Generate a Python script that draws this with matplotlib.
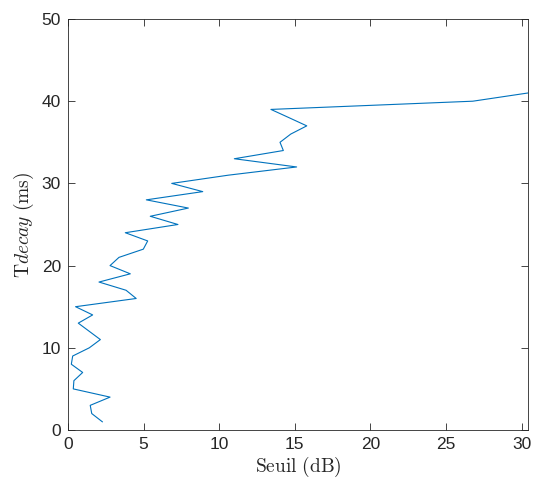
import numpy as np
import matplotlib.pyplot as plt

# Tdecay (ms) vs threshold (dB)
tdecay = np.arange(1, 42)
seuil = [2.27, 1.57, 1.47, 2.78, 0.35, 0.39, 0.97, 0.22, 0.31, 1.41,
         2.14, 1.41, 0.68, 1.63, 0.50, 4.51, 3.84, 2.05, 4.12, 2.78,
         3.37, 4.98, 5.27, 3.79, 7.27, 5.44, 7.96, 5.18, 8.91, 6.86,
         10.6, 15.12, 11.0, 14.24, 14.02, 14.73, 15.79, 14.61, 13.42, 26.77,
         30.42]

plt.rcParams['mathtext.fontset'] = 'cm'
plt.rcParams['font.family'] = ['Liberation Sans', 'DejaVu Sans']

fig = plt.figure(figsize=(5.35, 4.86), dpi=100)
ax = fig.add_axes([68 / 535, 1 - 430 / 486, 460 / 535, 411 / 486])

ax.plot(seuil, tdecay, color='#0072BD', linewidth=0.8)

ax.set_xlim(0, max(seuil))
ax.set_ylim(0, 50)
ax.set_xticks([0, 5, 10, 15, 20, 25, 30])
ax.set_yticks([0, 10, 20, 30, 40, 50])

for s in ax.spines.values():
    s.set_color('#262626')
    s.set_linewidth(0.6)
ax.tick_params(direction='in', length=5, width=0.6, color='#262626',
               labelsize=12.5, labelcolor='#262626', top=True, right=True, pad=5)

ax.set_xlabel(r'$\mathrm{Seuil\ (dB)}$', fontsize=14, color='#262626', labelpad=2)
ax.set_ylabel(r'$\mathrm{T}decay\ \mathrm{(ms)}$', fontsize=14, color='#262626', labelpad=4)

fig.savefig('out.png', dpi=100)
